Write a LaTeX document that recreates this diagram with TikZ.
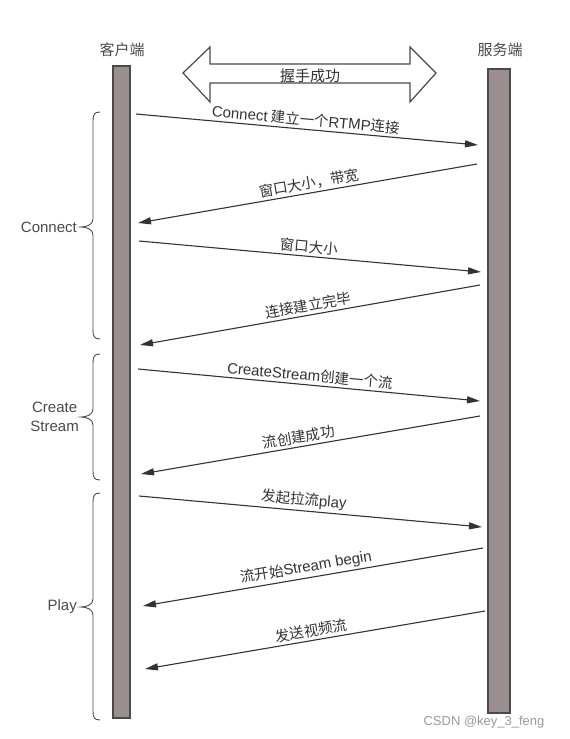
\documentclass[tikz,border=0pt]{standalone}
\usepackage{fontspec}
\newfontfamily\cjk{Noto Sans CJK SC}
\newfontfamily\lat{Liberation Sans}
\usetikzlibrary{arrows.meta}
\definecolor{barfill}{HTML}{9A8E91}
\definecolor{barline}{HTML}{4A4A4A}
\definecolor{txt}{HTML}{4A4A4A}
\definecolor{msg}{HTML}{333333}
\definecolor{wm}{HTML}{9A9A9A}
\newcommand\latw[1]{{\lat\fontsize{15}{16}\selectfont #1}}
\tikzset{
  lifebar/.style={draw=barline, fill=barfill, line width=1.2pt},
  msgarrow/.style={draw=msg, line width=1.1pt, -{Triangle[length=13pt,width=7pt]}},
  msglabel/.style={font=\cjk\fontsize{14.5}{16}\selectfont, text=msg, sloped, above, inner sep=2.5pt},
  head/.style={font=\cjk\fontsize{15}{17}\selectfont, text=txt},
  bracelabel/.style={font=\lat\fontsize{15}{19}\selectfont, text=txt, anchor=east, align=center, inner sep=0pt},
  bracestyle/.style={draw=txt, line width=0.9pt},
  dblarrow/.style={draw=barline, line width=1.2pt, fill=white},
}
\newcommand\mybrace[3]{%
  \draw[bracestyle] (100,#1) .. controls (94,#1) and (93,{#1+3}) .. (93,{#1+9})
    -- (93,{#2-8}) .. controls (93,{#2-2}) and (86,#2) .. (81,#2)
    .. controls (86,#2) and (93,{#2+2}) .. (93,{#2+8})
    -- (93,{#3-9}) .. controls (93,{#3-3}) and (94,#3) .. (100,#3);}
\begin{document}
\begin{tikzpicture}[x=1pt,y=-1pt]
\useasboundingbox[fill=white] (0,0) rectangle (570,739);
% lifelines
\draw[lifebar] (113,66) rectangle (130,718);
\draw[lifebar] (488,69) rectangle (510,713);
\node[head] (client) at (122,50) {客户端};
\node[head] (server) at (500,50) {服务端};
% handshake double arrow
\draw[dblarrow] (183,73) -- (210,47) -- (210,64) -- (410,64) -- (410,47) -- (436,73)
  -- (410,102) -- (410,83) -- (210,83) -- (210,102) -- cycle;
\node[head, text=msg] (hs) at (310,76) {握手成功};
% message endpoints
\coordinate (m1s) at (136,114); \coordinate (m1e) at (478,145);
\coordinate (m2s) at (477,164); \coordinate (m2e) at (138,223);
\coordinate (m3s) at (139,241); \coordinate (m3e) at (481,272);
\coordinate (m4s) at (480,285); \coordinate (m4e) at (140,345);
\coordinate (m5s) at (138,369); \coordinate (m5e) at (480,401);
\coordinate (m6s) at (480,416); \coordinate (m6e) at (141,474);
\coordinate (m7s) at (139,496); \coordinate (m7e) at (482,527);
\coordinate (m8s) at (483,548); \coordinate (m8e) at (143,606);
\coordinate (m9s) at (485,611); \coordinate (m9e) at (145,669);
\draw[msgarrow] (m1s) -- node[msglabel, pos=0.494] (l1) {\latw{Connect} 建立一个\latw{RTMP}连接} (m1e);
\draw[msgarrow] (m2s) -- node[msglabel, pos=0.49] (l2) {窗口大小，带宽} (m2e);
\draw[msgarrow] (m3s) -- node[msglabel, pos=0.494] (l3) {窗口大小} (m3e);
\draw[msgarrow] (m4s) -- node[msglabel, pos=0.5] (l4) {连接建立完毕} (m4e);
\draw[msgarrow] (m5s) -- node[msglabel, pos=0.5] (l5) {\latw{CreateStream}创建一个流} (m5e);
\draw[msgarrow] (m6s) -- node[msglabel, pos=0.53] (l6) {流创建成功} (m6e);
\draw[msgarrow] (m7s) -- node[msglabel, pos=0.478] (l7) {发起拉流\latw{play}} (m7e);
\draw[msgarrow] (m8s) -- node[msglabel, pos=0.515] (l8) {流开始\latw{Stream begin}} (m8e);
\draw[msgarrow] (m9s) -- node[msglabel, pos=0.506] (l9) {发送视频流} (m9e);
% braces
\mybrace{112}{227}{339}
\mybrace{354}{417}{480}
\mybrace{493}{607}{720}
\node[bracelabel] (bconn) at (77,227) {Connect};
\node[bracelabel] (bcs) at (79,417) {Create\\Stream};
\node[bracelabel] (bplay) at (77,607) {Play};
% watermark
\node[font=\lat\fontsize{13}{15}\selectfont, text=wm] (wmark) at (484,722) {CSDN @key\_3\_feng};
\end{tikzpicture}
\end{document}
